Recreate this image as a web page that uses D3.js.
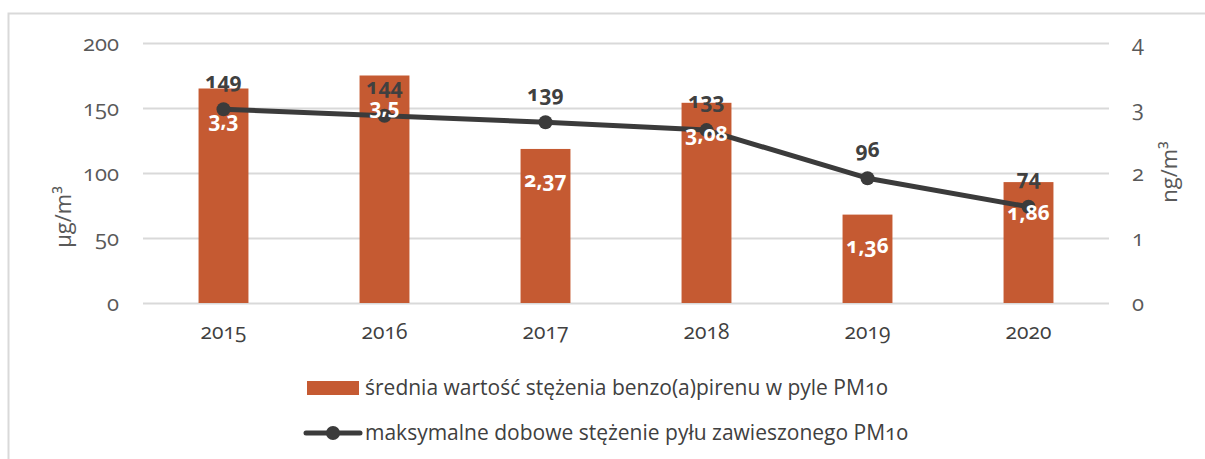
<!DOCTYPE html>
<html>
<head>
<meta charset="utf-8">
<script src="https://cdn.jsdelivr.net/npm/d3@7"></script>
<style>
  html, body { margin: 0; padding: 0; background: #fff; }
  svg { display: block; }
  svg text { font-family: "Open Sans", Lato, sans-serif; font-variant-numeric: oldstyle-nums; font-feature-settings: "onum" 1; }
</style>
</head>
<body>
<svg id="chart" width="1205" height="459"></svg>
<script>
// Years on the category axis
const years = ["2015", "2016", "2017", "2018", "2019", "2020"];
// Mean benzo(a)pyrene concentration in PM10 (ng/m3, right axis)
const bapValues = [3.3, 3.5, 2.37, 3.08, 1.36, 1.86];
// Maximum daily PM10 concentration (µg/m3, left axis)
const pm10Max = [149, 144, 139, 133, 96, 74];
// Axis ticks
const leftTicks = [0, 50, 100, 150, 200];
const rightTicks = [0, 1, 2, 3, 4];
// Legend texts
const barName = "średnia wartość stężenia benzo(a)pirenu w pyle PM10";
const lineName = "maksymalne dobowe stężenie pyłu zawieszonego PM10";

const barColor = "#C55A32";
const lineColor = "#3B3B3B";
const tickColor = "#595959";
const gridColor = "#D9D9D9";

const svg = d3.select("#chart");
const plot = { left: 143, right: 1109, top: 43, bottom: 303 };

// Outer frame
svg.append("rect")
  .attr("x", 8.5).attr("y", 13.5)
  .attr("width", 1300).attr("height", 600)
  .attr("fill", "none").attr("stroke", gridColor).attr("stroke-width", 2);

const x = d3.scaleBand().domain(years).range([plot.left, plot.right]).padding(0);
const yLeft = d3.scaleLinear().domain([0, 200]).range([plot.bottom, plot.top]);
const yRight = d3.scaleLinear().domain([0, 4]).range([plot.bottom, plot.top]);
const barW = x.bandwidth() * 0.31;
const fmt = d => String(d).replace(".", ",");

// Gridlines
svg.append("g").selectAll("line").data(leftTicks).join("line")
  .attr("x1", plot.left).attr("x2", plot.right)
  .attr("y1", d => Math.round(yLeft(d)) + 0.5).attr("y2", d => Math.round(yLeft(d)) + 0.5)
  .attr("stroke", gridColor).attr("stroke-width", 2);

function styleAxis(g, color, size) {
  g.attr("font-family", null).attr("font-size", null);
  g.select(".domain").remove();
  g.selectAll("text").attr("fill", color).attr("font-size", size);
}

// Left axis
svg.append("g").attr("transform", `translate(${plot.left - 24},0)`)
  .call(d3.axisLeft(yLeft).tickValues(leftTicks).tickFormat(d3.format("d")).tickSize(0).tickPadding(0))
  .call(g => styleAxis(g, tickColor, 22));

// Right axis
svg.append("g").attr("transform", `translate(${plot.right + 23},0)`)
  .call(d3.axisRight(yRight).tickValues(rightTicks).tickFormat(d3.format("d")).tickSize(0).tickPadding(0))
  .call(g => styleAxis(g, tickColor, 22));

// Category axis
svg.append("g").attr("transform", `translate(0,${plot.bottom + 21})`)
  .call(d3.axisBottom(x).tickSize(0).tickPadding(0))
  .call(g => styleAxis(g, "#404040", 21));

// Axis titles
svg.append("text")
  .attr("transform", "translate(71,217) rotate(-90)")
  .attr("text-anchor", "middle").attr("fill", tickColor).attr("font-size", 22)
  .text("µg/m³");
svg.append("text")
  .attr("transform", "translate(1177,172) rotate(-90)")
  .attr("text-anchor", "middle").attr("fill", tickColor).attr("font-size", 22)
  .text("ng/m³");

// Bars (right axis)
svg.append("g").selectAll("rect").data(years).join("rect")
  .attr("x", (d) => x(d) + x.bandwidth() / 2 - barW / 2)
  .attr("width", barW)
  .attr("y", (d, i) => yRight(bapValues[i]))
  .attr("height", (d, i) => plot.bottom - yRight(bapValues[i]))
  .attr("fill", barColor);

// Line (left axis)
const cx = d => x(d) + x.bandwidth() / 2;
const line = d3.line().x((d, i) => cx(years[i])).y(d => yLeft(d));
svg.append("path").datum(pm10Max)
  .attr("d", line).attr("fill", "none")
  .attr("stroke", lineColor).attr("stroke-width", 5).attr("stroke-linejoin", "round");
svg.append("g").selectAll("circle").data(pm10Max).join("circle")
  .attr("cx", (d, i) => cx(years[i])).attr("cy", d => yLeft(d))
  .attr("r", 7).attr("fill", lineColor);

// Bar value labels (inside end, white)
svg.append("g").selectAll("text").data(bapValues).join("text")
  .attr("x", (d, i) => cx(years[i]))
  .attr("y", d => yRight(d) + 31)
  .attr("dy", "0.35em")
  .attr("text-anchor", "middle").attr("fill", "#fff")
  .attr("font-size", 21).attr("font-weight", "bold")
  .text(d => fmt(d));

// Line value labels (above points)
svg.append("g").selectAll("text").data(pm10Max).join("text")
  .attr("x", (d, i) => cx(years[i]))
  .attr("y", d => yLeft(d) - 29)
  .attr("dy", "0.35em")
  .attr("text-anchor", "middle").attr("fill", "#404040")
  .attr("font-size", 21).attr("font-weight", "bold")
  .text(d => d);

// Legend
const lg = svg.append("g");
lg.append("rect").attr("x", 307).attr("y", 381).attr("width", 52).attr("height", 14).attr("fill", barColor);
lg.append("text").attr("x", 365).attr("y", 395).attr("fill", "#404040").attr("font-size", 21).text(barName);
lg.append("line").attr("x1", 306).attr("x2", 360).attr("y1", 433).attr("y2", 433)
  .attr("stroke", lineColor).attr("stroke-width", 5).attr("stroke-linecap", "round");
lg.append("circle").attr("cx", 333).attr("cy", 433).attr("r", 7).attr("fill", lineColor);
lg.append("text").attr("x", 365).attr("y", 440).attr("fill", "#404040").attr("font-size", 21).text(lineName);
</script>
</body>
</html>
